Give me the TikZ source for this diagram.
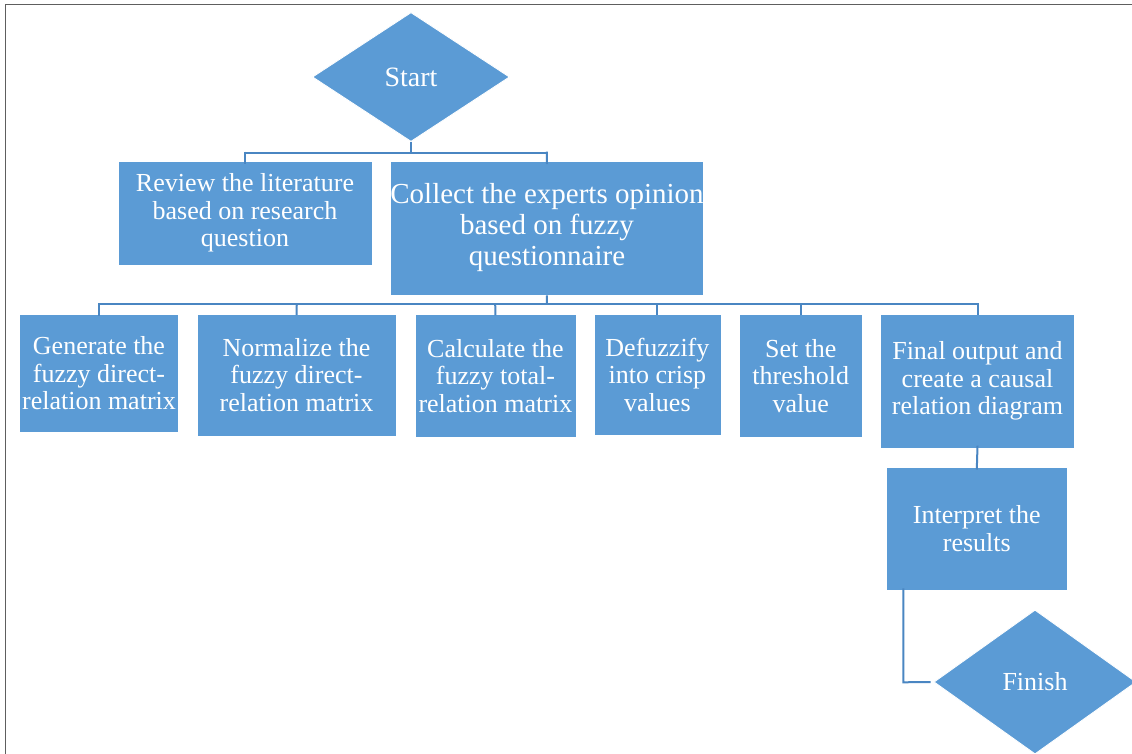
\documentclass[tikz,border=0pt]{standalone}
\usepackage{fontspec}
\setmainfont{Liberation Serif}
\usetikzlibrary{shapes.geometric}
\definecolor{boxblue}{HTML}{5B9BD5}
\definecolor{linkblue}{HTML}{4A86C2}
\definecolor{framegrey}{HTML}{5E5E5E}
\tikzset{
  box/.style={rectangle, fill=boxblue, draw=white, line width=0.8pt, text=white,
    align=center, inner sep=0pt, font=\fontsize{26}{27.5}\selectfont},
  bigbox/.style={box, font=\fontsize{29}{31}\selectfont},
  dia/.style={diamond, fill=boxblue, draw=white, line width=0.8pt, text=white,
    inner sep=0pt, aspect=1},
  link/.style={draw=linkblue, line width=2pt},
  frame/.style={draw=framegrey, line width=1.6pt}
}
\begin{document}
\begin{tikzpicture}[x=1pt,y=-1pt]
\useasboundingbox (0,0) rectangle (1132,754);
\clip (0,0) rectangle (1132,754);
\fill[white] (0,0) rectangle (1132,754);
% frame
\coordinate (fbl) at (5.5,754);
\coordinate (ftl) at (5.5,4.5);
\coordinate (ftr) at (1132,4.5);
\draw[frame] (fbl) -- (ftl) -- (ftr);

% nodes
\node[dia, minimum width=197pt, minimum height=129pt, font=\fontsize{28}{30}\selectfont] (start) at (411,77) {Start};
\node[box, minimum width=254pt, minimum height=104pt] (rev) at (245,213) {Review the literature\\based on research\\question};
\node[bigbox, minimum width=313pt, minimum height=134pt] (col) at (547,228) {Collect the experts opinion\\based on fuzzy\\questionnaire};

\node[box, minimum width=159pt, minimum height=118pt] (gen) at (99,373.5) {Generate the\\fuzzy direct-\\relation matrix};
\node[box, minimum width=199pt, minimum height=122pt] (nor) at (296.5,375) {Normalize the\\fuzzy direct-\\relation matrix};
\node[box, minimum width=161pt, minimum height=123pt] (cal) at (495.4,375.8) {Calculate the\\fuzzy total-\\relation matrix};
\node[box, minimum width=127pt, minimum height=121pt] (def) at (657.4,374.8) {Defuzzify\\into crisp\\values};
\node[box, minimum width=123pt, minimum height=123pt] (set) at (800.8,375.8) {Set the\\threshold\\value};
\node[box, minimum width=194pt, minimum height=134pt] (fin) at (977.5,381.2) {Final output and\\create a causal\\relation diagram};
\node[box, minimum width=181pt, minimum height=123pt] (int) at (976.8,528.4) {Interpret the\\results};
\node[dia, minimum width=202pt, minimum height=144pt, font=\fontsize{26}{28}\selectfont] (end) at (1035,682) {Finish};

% connectors level 1
\draw[link] (start.south) -- (411,152.7);
\draw[link] (245,152.7) -- (546.8,152.7);
\draw[link] (245,151.7) -- ([yshift=-3.5pt]rev.north);
\draw[link] (546.8,151.7) -- ([yshift=-3.5pt]col.north);

% connectors level 2
\draw[link] (col.south) -- (546.8,304.3);
\draw[link] (99,304.3) -- (977.5,304.3);
\draw[link] (99,303.3) -- ([yshift=-1.5pt]gen.north);
\draw[link] (296.8,303.3) -- ([yshift=-1.5pt]nor.north);
\draw[link] (495.2,303.3) -- ([yshift=-1.5pt]cal.north);
\draw[link] (657.4,303.3) -- ([yshift=-1.5pt]def.north);
\draw[link] (800.8,303.3) -- ([yshift=-1.5pt]set.north);
\draw[link] (977.5,303.3) -- ([yshift=-1.5pt]fin.north);

% final -> interpret
\draw[link] ([yshift=3pt]fin.south) -- ([yshift=-3pt]int.north);
% interpret -> finish
\coordinate (elbow) at (903.3,682.3);
\draw[link] ([yshift=2pt]int.south -| elbow) -- (elbow) -- ([xshift=-3pt]end.west);
\end{tikzpicture}
\end{document}
